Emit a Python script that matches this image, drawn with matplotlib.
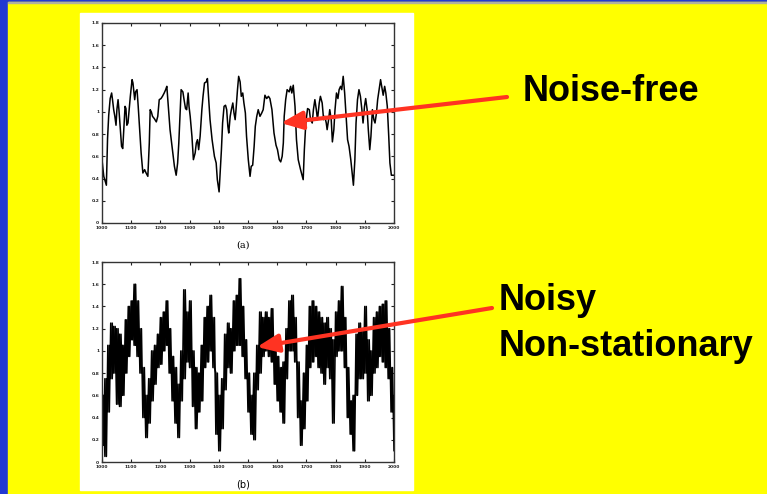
import numpy as np
import matplotlib.pyplot as plt
from matplotlib.patches import Rectangle, FancyArrowPatch

# (a) noise-free series
t_clean = [1000, 1006, 1015, 1019, 1023, 1028, 1033, 1036, 1040, 1044, 1048, 1051, 1055, 1058,
           1063, 1067, 1071, 1074, 1079, 1082, 1085, 1089, 1093, 1097, 1103, 1106, 1112, 1115,
           1120, 1124, 1129, 1134, 1140, 1146, 1151, 1157, 1162, 1165, 1169, 1173, 1179, 1186,
           1191, 1196, 1202, 1207, 1213, 1218, 1222, 1228, 1233, 1241, 1248, 1254, 1259, 1263,
           1268, 1271, 1277, 1281, 1286, 1290, 1295, 1298, 1302, 1308, 1313, 1319, 1323, 1327,
           1331, 1336, 1342, 1346, 1351, 1357, 1361, 1364, 1370, 1377, 1385, 1391, 1395, 1401,
           1404, 1409, 1413, 1418, 1423, 1427, 1431, 1434, 1439, 1443, 1448, 1452, 1456, 1459,
           1464, 1468, 1473, 1477, 1482, 1486, 1491, 1495, 1501, 1507, 1511, 1516, 1521, 1525,
           1530, 1535, 1541, 1547, 1552, 1558, 1564, 1570, 1575, 1582, 1589, 1596, 1601, 1607,
           1612, 1617, 1621, 1624, 1629, 1634, 1641, 1646, 1650, 1655, 1661, 1666, 1672, 1680,
           1686, 1689, 1693, 1698, 1704, 1710, 1714, 1720, 1724, 1729, 1734, 1738, 1744, 1748,
           1754, 1759, 1763, 1768, 1771, 1776, 1780, 1785, 1789, 1794, 1798, 1803, 1808, 1812,
           1817, 1821, 1826, 1831, 1836, 1841, 1846, 1852, 1858, 1861, 1866, 1870, 1875, 1880,
           1885, 1890, 1894, 1899, 1903, 1908, 1912, 1917, 1921, 1926, 1931, 1935, 1940, 1944,
           1949, 1954, 1959, 1963, 1968, 1972, 1977, 1982, 1986, 1991, 2000]
v_clean = [0.57, 0.42, 0.34, 0.76, 0.97, 1.12, 1.17, 1.11, 1.02, 0.96, 0.88, 1.02, 1.11, 1.02,
           0.84, 0.69, 0.67, 0.81, 1.05, 1.03, 0.88, 0.90, 1.02, 1.14, 1.29, 1.26, 1.11, 1.18,
           1.20, 1.05, 0.84, 0.63, 0.45, 0.48, 0.45, 0.42, 0.72, 1.02, 1.00, 0.96, 0.94, 0.91,
           0.96, 1.11, 1.12, 1.14, 1.17, 1.20, 1.23, 1.02, 0.84, 0.66, 0.51, 0.43, 0.54, 0.72,
           1.02, 1.20, 1.18, 1.11, 1.03, 1.02, 1.17, 1.05, 0.96, 0.78, 0.57, 0.63, 0.72, 0.75,
           0.66, 0.78, 1.02, 1.14, 1.26, 1.27, 1.30, 1.17, 0.93, 0.75, 0.60, 0.54, 0.39, 0.28,
           0.42, 0.66, 0.90, 1.05, 1.06, 1.02, 0.87, 0.81, 0.96, 1.02, 1.08, 0.99, 0.93, 1.02,
           1.20, 1.32, 1.27, 1.14, 1.17, 1.08, 0.99, 0.78, 0.57, 0.42, 0.51, 0.52, 0.69, 0.87,
           0.96, 1.02, 0.96, 0.99, 1.02, 1.15, 1.12, 1.14, 1.12, 1.02, 0.81, 0.70, 0.66, 0.57,
           0.55, 0.60, 0.72, 0.96, 1.11, 1.20, 1.18, 1.23, 1.17, 1.24, 1.05, 0.75, 0.57, 0.48,
           0.42, 0.39, 0.66, 0.90, 1.03, 1.02, 0.93, 0.90, 1.02, 1.11, 1.02, 0.93, 1.08, 1.14,
           1.08, 0.93, 0.96, 0.90, 0.84, 0.93, 1.02, 0.93, 0.73, 0.84, 1.02, 1.17, 1.12, 1.20,
           1.23, 1.20, 1.32, 1.17, 0.96, 0.75, 0.69, 0.57, 0.42, 0.34, 0.57, 0.90, 1.11, 1.20,
           1.14, 1.02, 0.90, 1.05, 1.12, 1.02, 0.84, 0.66, 0.78, 1.02, 0.93, 0.90, 0.99, 1.11,
           1.20, 1.29, 1.21, 1.15, 1.23, 1.17, 1.05, 0.78, 0.54, 0.43, 0.43]

# (b) noisy series: top and bottom of the noise band, every 10 steps
t_noisy = list(range(1000, 2001, 10))
noisy_hi = [0.60, 0.75, 1.05, 1.25, 1.22, 1.20, 1.15, 1.05, 1.28, 1.40,
            1.45, 1.60, 1.45, 1.20, 0.85, 0.60, 0.75, 1.00, 1.05, 1.15,
            1.30, 1.35, 1.45, 1.20, 0.95, 0.85, 0.70, 1.00, 1.55, 1.35,
            1.45, 1.00, 0.85, 0.80, 1.05, 1.30, 1.40, 1.50, 1.30, 0.80,
            0.60, 0.75, 1.15, 1.25, 1.20, 1.45, 1.50, 1.65, 1.40, 1.10,
            0.80, 0.60, 0.80, 1.05, 1.35, 1.30, 1.35, 1.30, 1.38, 1.10,
            0.95, 0.85, 0.90, 1.20, 1.45, 1.50, 1.30, 0.90, 0.55, 0.80,
            1.05, 1.40, 1.45, 1.40, 1.35, 1.30, 1.25, 1.30, 1.20, 1.10,
            1.35, 1.45, 1.58, 1.30, 0.85, 0.55, 0.60, 1.15, 1.25, 1.20,
            1.40, 1.10, 1.00, 1.30, 1.35, 1.40, 1.42, 1.45, 1.20, 0.85, 0.60]
noisy_lo = [0.15, 0.05, 0.45, 0.75, 0.80, 0.52, 0.50, 0.60, 0.80, 0.95,
            1.10, 1.05, 0.95, 0.80, 0.40, 0.22, 0.35, 0.55, 0.70, 0.85,
            0.88, 1.00, 1.05, 0.80, 0.55, 0.35, 0.22, 0.55, 0.75, 0.90,
            0.85, 0.50, 0.30, 0.45, 0.55, 0.85, 0.90, 1.00, 0.85, 0.25,
            0.10, 0.30, 0.65, 0.85, 0.80, 1.00, 1.05, 1.05, 0.95, 0.75,
            0.45, 0.25, 0.20, 0.65, 0.80, 0.95, 1.00, 0.95, 0.90, 0.70,
            0.55, 0.45, 0.35, 0.75, 1.00, 1.00, 0.90, 0.40, 0.15, 0.30,
            0.55, 0.85, 0.90, 0.95, 0.85, 0.80, 0.70, 0.85, 0.75, 0.35,
            0.95, 1.00, 1.00, 0.85, 0.40, 0.25, 0.10, 0.60, 0.75, 0.75,
            0.80, 0.55, 0.60, 0.80, 0.85, 0.95, 0.90, 0.85, 0.75, 0.45, 0.10]

y_ticks = [0, 0.2, 0.4, 0.6, 0.8, 1.0, 1.2, 1.4, 1.6, 1.8]
y_labels = ['0', '0.2', '0.4', '0.6', '0.8', '1', '1.2', '1.4', '1.6', '1.8']
x_ticks = [1000, 1100, 1200, 1300, 1400, 1500, 1600, 1700, 1800, 1900, 2000]

W, H = 767, 494
fig = plt.figure(figsize=(W / 100, H / 100), dpi=100, facecolor='#2239d2')


def px(x, y, w=0, h=0):
    # pixel box (from top-left) -> figure fraction
    return [x / W, 1 - (y + h) / H, w / W, h / H]


fig.add_artist(Rectangle(px(8, 2, 759, 492)[:2], 759 / W, 492 / H,
                         transform=fig.transFigure, color='#ffff00', zorder=0))
fig.add_artist(Rectangle(px(8, 2, 759, 1)[:2], 759 / W, 1 / H,
                         transform=fig.transFigure, color='#b0b0a0', zorder=0))
fig.add_artist(Rectangle(px(80, 13, 333, 477)[:2], 333 / W, 477 / H,
                         transform=fig.transFigure, color='white', zorder=0))

ax1 = fig.add_axes(px(102, 23, 292, 200))
ax2 = fig.add_axes(px(102, 262, 292, 200))

ax1.plot(t_clean, v_clean, color='black', lw=1.1)

# noise drawn as a zig-zag between band top and bottom, in both phases
t = np.array(t_noisy)
xs = np.column_stack([t, t + 5]).ravel()
ax2.plot(xs, np.column_stack([noisy_hi, noisy_lo]).ravel(), color='black', lw=1.15)
ax2.plot(xs, np.column_stack([noisy_lo, noisy_hi]).ravel(), color='black', lw=1.15)

for ax in (ax1, ax2):
    ax.set_xlim(1000, 2000)
    ax.set_ylim(0, 1.8)
    ax.set_yticks(y_ticks, y_labels)
    ax.set_xticks(x_ticks)
    ax.tick_params(direction='in', length=2.5, width=0.8, top=True, right=True,
                   labelsize=3.2, pad=2, colors='#222222')
    for lbl in ax.get_xticklabels() + ax.get_yticklabels():
        lbl.set_fontweight('bold')
    for s in ax.spines.values():
        s.set_linewidth(1.0)
        s.set_color('#333333')

fig.text(243 / W, 1 - 245 / H, '(a)', ha='center', va='center', fontsize=7,
         family='DejaVu Serif')
fig.text(243 / W, 1 - 484 / H, '(b)', ha='center', va='center', fontsize=7)

txt = dict(fontsize=26, fontweight='bold', family='Liberation Sans', color='black',
           ha='left', va='baseline')
fig.text(523 / W, 1 - 101 / H, 'Noise-free', **txt)
fig.text(499 / W, 1 - 310 / H, 'Noisy', **txt)
fig.text(499 / W, 1 - 356 / H, 'Non-stationary', **txt)

red = '#ff3322'
for (x0, y0), (x1, y1) in [((507, 97), (281, 123)), ((492, 308), (257, 347))]:
    fig.add_artist(FancyArrowPatch((x0 / W, 1 - y0 / H), (x1 / W, 1 - y1 / H),
                                   transform=fig.transFigure, color=red, lw=3,
                                   arrowstyle='-|>,head_length=13,head_width=5.5',
                                   mutation_scale=1, shrinkA=0, shrinkB=0, zorder=5))

fig.savefig('out.png', dpi=100, facecolor=fig.get_facecolor())
